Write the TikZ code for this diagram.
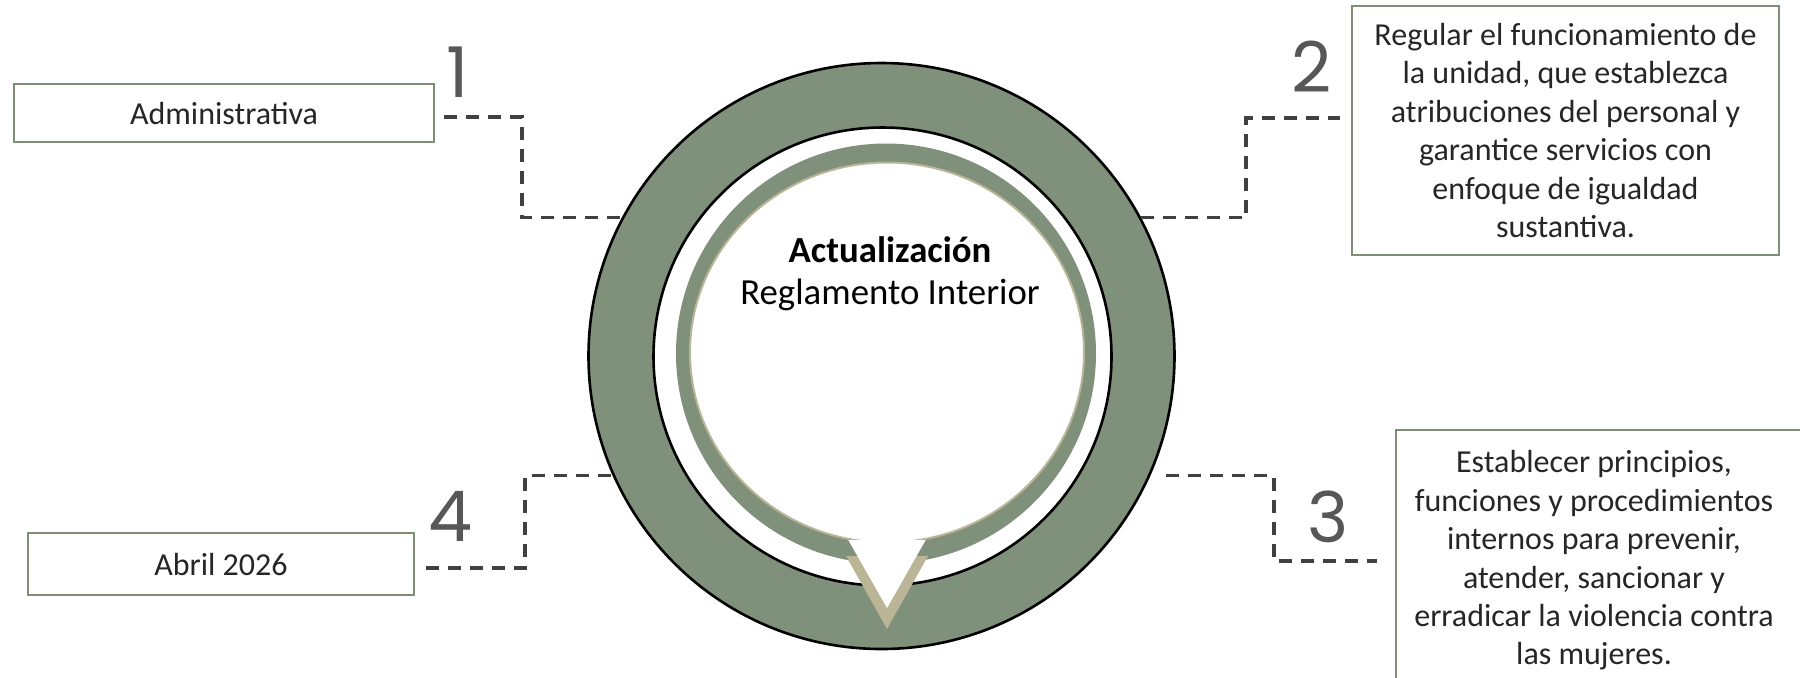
\documentclass[tikz,border=0pt]{standalone}
\usepackage{fontspec}
\setmainfont{Carlito}
\newfontfamily\digitfont{Poppins}
\definecolor{ringgreen}{HTML}{7F917A}
\definecolor{vtan}{HTML}{B9B596}
\definecolor{boxline}{HTML}{7E8F76}
\definecolor{dashgray}{HTML}{404040}
\definecolor{digitgray}{HTML}{575757}
\definecolor{txtcol}{HTML}{262626}
\begin{document}
\begin{tikzpicture}[x=0.5pt,y=-0.5pt,
  boxnode/.style={draw=boxline, line width=1pt, fill=white, inner sep=0pt, text=txtcol,
    font=\fontsize{16}{19.2}\selectfont, align=center},
  boxtext/.style={inner sep=0pt, text=txtcol, font=\fontsize{16}{19.2}\selectfont, align=center},
  conn/.style={draw=dashgray, line width=1.6pt, dash pattern=on 6.5pt off 4.5pt},
  digit/.style={font=\digitfont\fontsize{35}{35}\selectfont, text=digitgray, inner sep=0pt},
  centertext/.style={inner sep=0pt, font=\fontsize{18.4}{22}\selectfont, text=black},
]
\useasboundingbox (0,0) rectangle (1800,677);

% central graphic
\node[circle, minimum size=293pt, inner sep=0pt, fill=ringgreen, draw=black, line width=1.3pt] (ring) at (881.5,356) {};
\node[circle, minimum size=229pt, inner sep=0pt, fill=white, draw=black, line width=1.3pt] (gap) at (882.5,356.5) {};
\node[circle, minimum size=210pt, inner sep=0pt, fill=ringgreen] (band) at (886,353.5) {};
\fill[vtan] (846,556) -- (928,556) -- (887,629) -- cycle;
\draw[vtan, line width=1pt, fill=white] (887,352.5) ellipse [x radius=197, y radius=190];
\fill[white] (848.3,540) -- (925.7,540) -- (887,608) -- cycle;

\node[centertext, font=\bfseries\fontsize{18.4}{22}\selectfont] (title) at (890,250) {Actualización};
\node[centertext] (sub) at (890,295) {Reglamento Interior};

% boxes
\node[boxnode, minimum width=210pt, minimum height=29pt] (b1) at (224,113) {Administrativa};
\node[boxnode, minimum width=213.5pt, minimum height=124.5pt] (b2) at (1565.5,130.5)
  {Regular el funcionamiento de\\la unidad, que establezca\\atribuciones del personal y\\garantice servicios con\\enfoque de igualdad\\sustantiva.};
\node[boxnode, minimum width=208pt, minimum height=131pt] (b3) at (1604,561) {};
\node[boxtext] (t3) at (1594,560.5)
  {Establecer principios,\\funciones y procedimientos\\internos para prevenir,\\atender, sancionar y\\erradicar la violencia contra\\las mujeres.};
\node[boxnode, minimum width=193pt, minimum height=31pt] (b4) at (221,564) {Abril 2026};

% numbers
\node[digit] (n1) at (458,72) {1};
\node[digit] (n2) at (1312,67) {2};
\node[digit] (n3) at (1328,517) {3};
\node[digit] (n4) at (451,516) {4};

% elbow columns
\coordinate (e1) at (522,0);
\coordinate (e2) at (1246,0);
\coordinate (e3) at (1274,0);
\coordinate (e4) at (525,0);

% connectors
\draw[conn] ([xshift=4.5pt,yshift=-2pt]b1.east) -| (e1 |- ring.152.8) -- (ring.152.8);
\draw[conn] (ring.28.5) -| (e2 |- 0,118) -- ([xshift=-5.5pt]b2.west |- 0,118);
\draw[conn, shorten <=8pt] (ring.-24.8) -| (e3 |- b3.west) -- ([xshift=-9pt]b3.west);
\draw[conn] ([xshift=5.5pt,yshift=-2pt]b4.east) -| (e4 |- ring.204.8) -- (ring.204.8);
\end{tikzpicture}
\end{document}
